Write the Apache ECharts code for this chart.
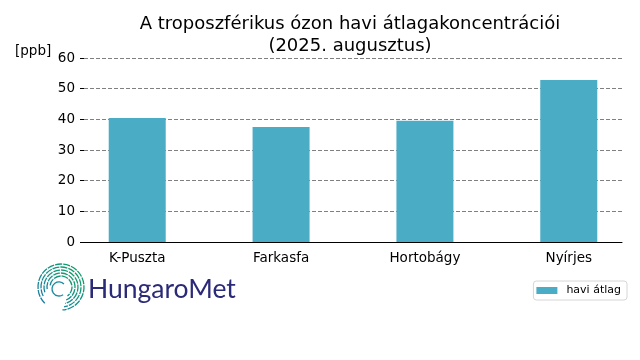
<!DOCTYPE html>
<html>
<head>
<meta charset="utf-8">
<script src="https://cdn.jsdelivr.net/npm/echarts@6/dist/echarts.min.js"></script>
<style>html,body{margin:0;padding:0;background:#fff}#c{width:640px;height:360px}</style>
</head>
<body>
<div id="c"></div>
<script>
var categories = ['K-Puszta', 'Farkasfa', 'Hortobágy', 'Nyírjes'];
var haviAtlag = [40.4, 37.5, 39.5, 52.8];
var yTicks = [0, 10, 20, 30, 40, 50, 60];
var seriesName = 'havi átlag';
var titleText = 'A troposzférikus ózon havi átlagakoncentrációi\n(2025. augusztus)';
var unitText = '[ppb]';
var logoText = 'HungaroMet';

var FONT = 'DejaVu Sans';
var chart = echarts.init(document.getElementById('c'), null, {renderer: 'canvas'});

var barData = haviAtlag.map(function (v, i) { return [i, v]; });

// logo swirl rings
var rings = [
  {r: 11, s: 1.05, e: 2.30},
  {r: 14, s: 0.95, e: 2.38},
  {r: 17, s: 0.90, e: 2.42},
  {r: 20, s: 0.85, e: 2.45},
  {r: 23, s: 0.75, e: 2.48}
];
var swirl = rings.map(function (g) {
  return {
    type: 'arc',
    shape: {cx: 61, cy: 287, r: g.r, startAngle: Math.PI * g.s, endAngle: Math.PI * g.e, clockwise: true},
    style: {
      fill: null,
      lineWidth: 1.3,
      lineDash: [7, 1],
      stroke: new echarts.graphic.LinearGradient(0, 1, 1, 0, [
        {offset: 0, color: '#1f6fb0'},
        {offset: 0.5, color: '#14928a'},
        {offset: 1, color: '#13a05a'}
      ])
    },
    silent: true
  };
});
swirl.push({
  type: 'arc',
  shape: {cx: 59, cy: 289, r: 7, startAngle: Math.PI * 0.3, endAngle: Math.PI * 1.75, clockwise: true},
  style: {fill: null, lineWidth: 1.3, stroke: '#1a8aa0'},
  silent: true
});

var option = {
  backgroundColor: '#ffffff',
  animation: false,
  grid: {left: 84, right: 18, top: 58, bottom: 118, containLabel: false},
  legend: {
    data: [seriesName],
    right: 13,
    top: 281,
    icon: 'rect',
    itemWidth: 21,
    itemHeight: 7,
    itemGap: 0,
    padding: [3, 6, 3, 3],
    borderColor: '#d6d6d6',
    borderWidth: 1,
    borderRadius: 3,
    textStyle: {fontFamily: FONT, fontSize: 11, color: '#000', lineHeight: 13, padding: [0, 0, 0, 4]}
  },
  xAxis: {
    type: 'value',
    min: -0.37,
    max: 3.37,
    axisLine: {show: true, onZero: false, lineStyle: {color: '#000', width: 1}},
    axisTick: {show: false},
    splitLine: {show: false},
    axisLabel: {
      customValues: [0, 1, 2, 3],
      formatter: function (v) { return categories[Math.round(v)] || ''; },
      fontFamily: FONT, fontSize: 13.5, color: '#000', margin: 9
    }
  },
  yAxis: {
    type: 'value',
    min: yTicks[0],
    max: yTicks[yTicks.length - 1],
    interval: 10,
    axisLine: {show: false, onZero: false},
    axisTick: {show: true, length: 4, lineStyle: {color: '#000'}},
    splitLine: {show: true, lineStyle: {color: '#808080', width: 1, type: [4, 2]}},
    axisLabel: {fontFamily: FONT, fontSize: 13.5, color: '#000', margin: 9}
  },
  series: [{
    name: seriesName,
    type: 'bar',
    data: barData,
    barWidth: 57,
    itemStyle: {color: '#4bacc6'},
    z: 1
  }],
  graphic: [
    {
      type: 'text',
      style: {
        x: 350, y: 13, text: titleText, align: 'center', verticalAlign: 'top',
        font: '18px "' + FONT + '"', lineHeight: 22, fill: '#000'
      },
      silent: true
    },
    {
      type: 'text',
      style: {x: 15, y: 51, text: unitText, align: 'left', verticalAlign: 'middle', font: '13.5px "' + FONT + '"', fill: '#000'},
      silent: true
    },
    {
      type: 'text',
      style: {x: 88, y: 289, text: logoText, align: 'left', verticalAlign: 'middle', font: '26.5px Lato', fill: '#2b2a78'},
      silent: true
    }
  ].concat(swirl)
};
chart.setOption(option);
</script>
</body>
</html>
